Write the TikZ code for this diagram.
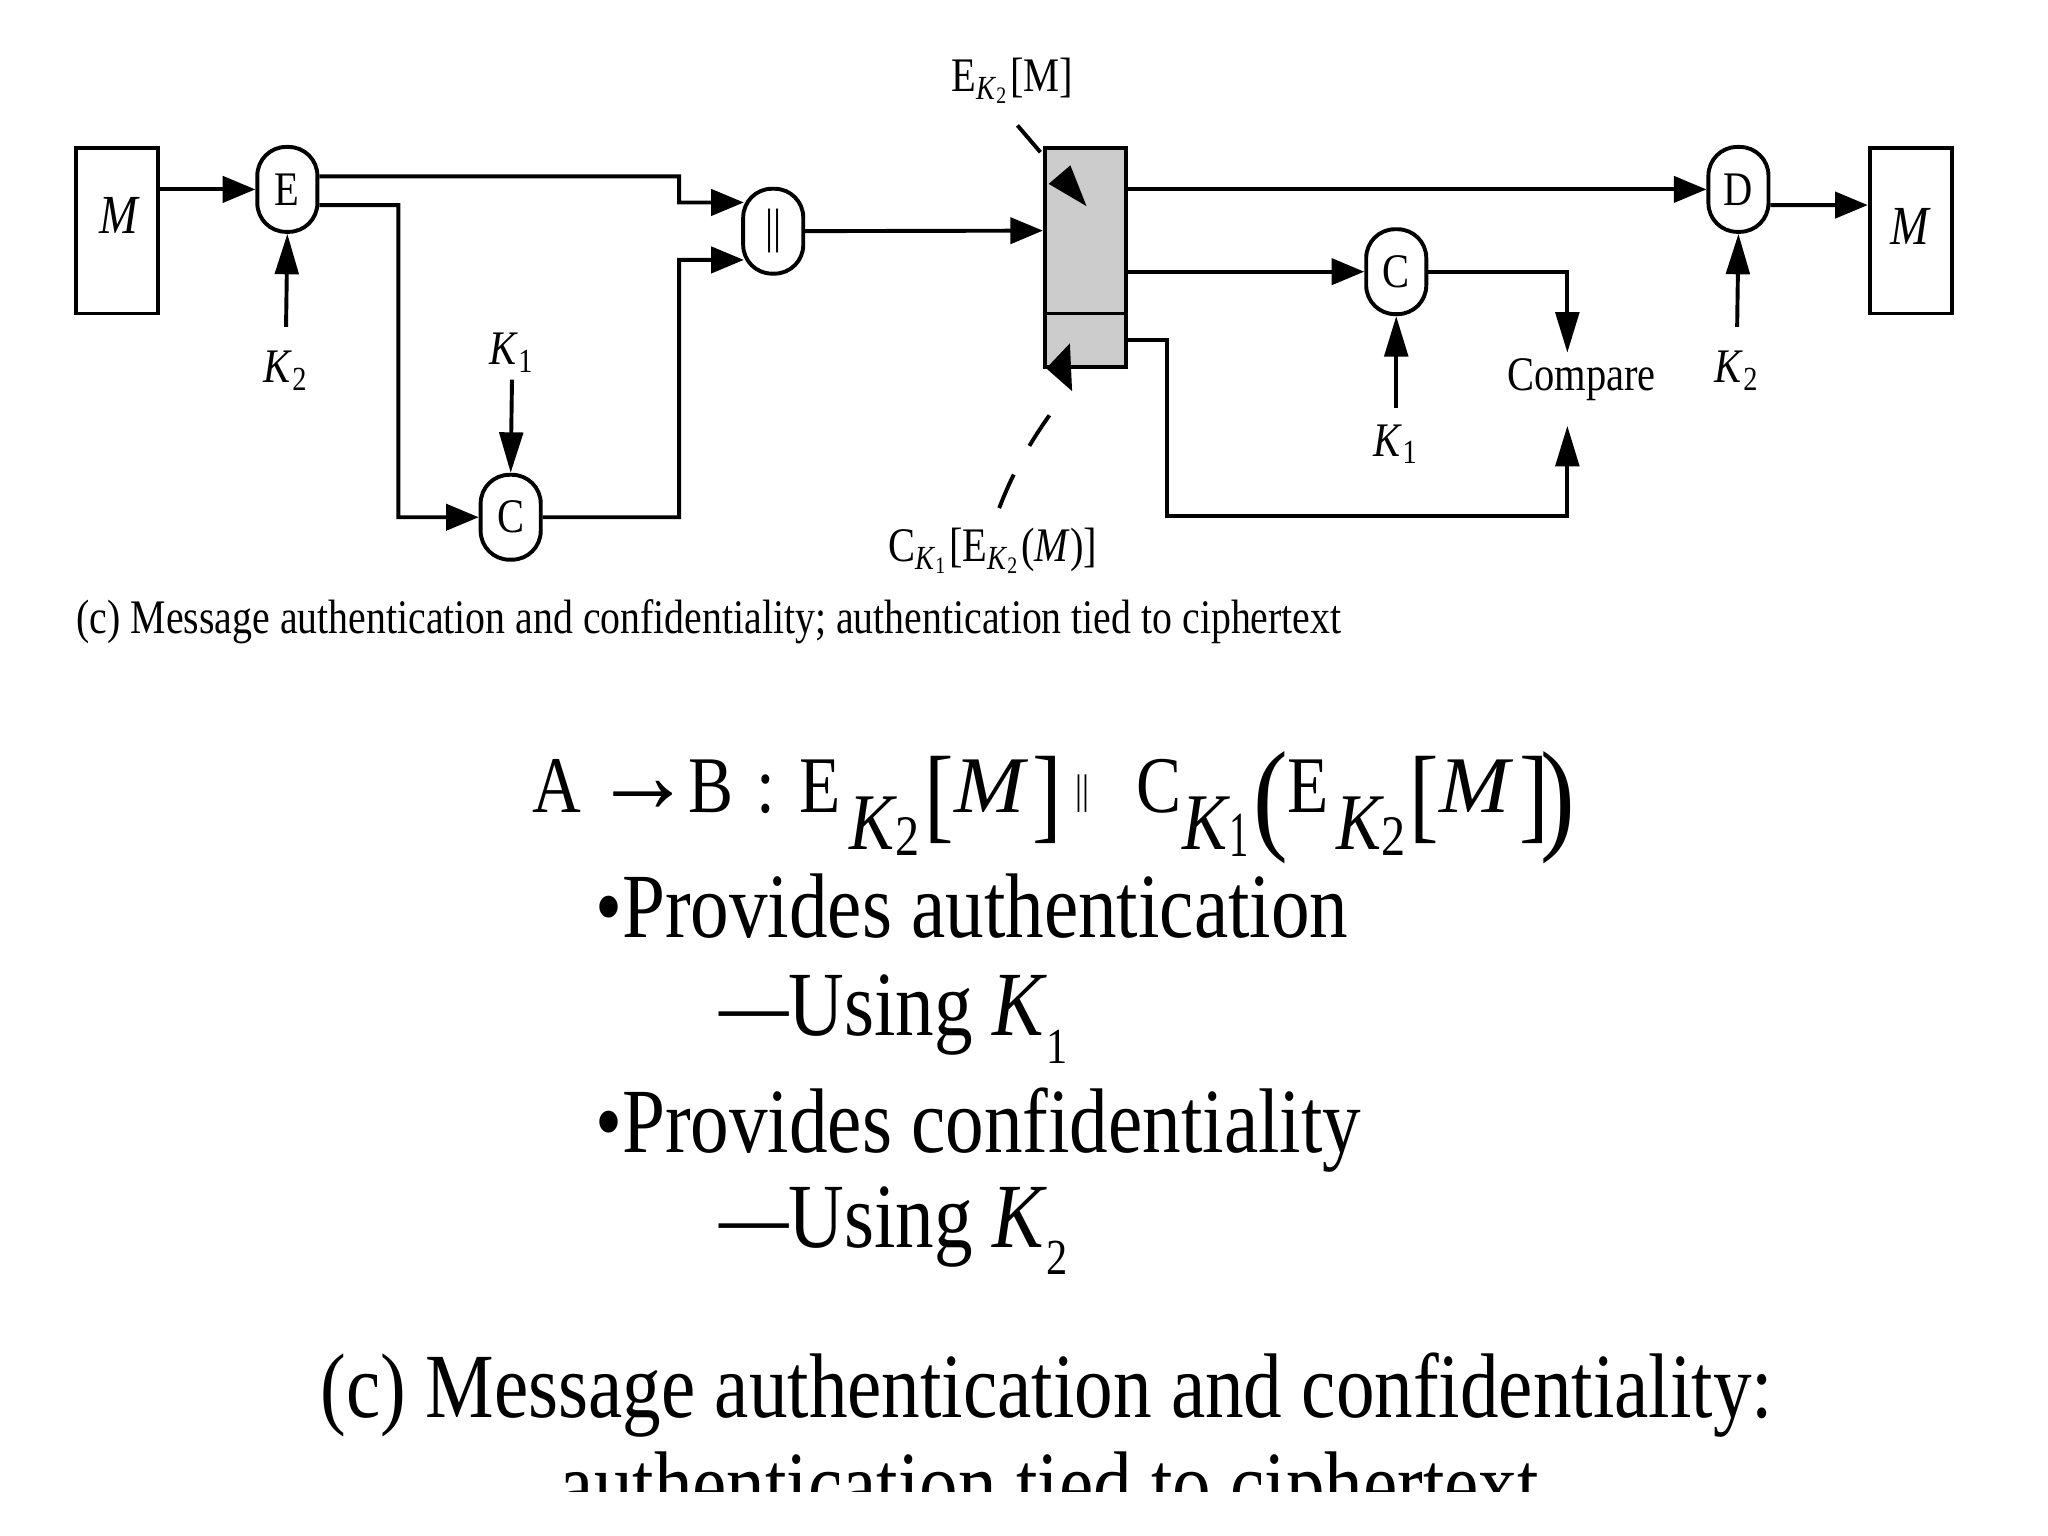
\documentclass[tikz,border=0pt]{standalone}
\usepackage{fontspec}
\setmainfont{Liberation Serif}
\usepackage{graphicx}
\usetikzlibrary{arrows.meta}
\newcommand\sx[2]{\scalebox{#1}[1]{#2}}
\newcommand\fs[1]{\fontsize{#1}{#1}\selectfont}
\newcommand\KK[1]{\textit{K}\textsubscript{#1}}
\newcommand\pc[2]{\rlap{\hspace{#1mm}#2}}
\begin{document}
\begin{tikzpicture}[x=0.1mm,y=-0.1mm,
  ln/.style={line width=0.3mm},
  harr/.style={ln,-{Triangle[length=2.5mm,width=2mm]}},
  varr/.style={ln,-{Triangle[length=3.1mm,width=1.8mm]}},
  dshA/.style={ln,dash pattern=on 2.7mm off 4mm,-{Triangle[length=3.2mm,width=2.1mm]}},
  dshB/.style={ln,dash pattern=on 2.8mm off 2.5mm on 2.8mm off 8mm,-{Triangle[length=1.9mm,width=3.6mm]}},
  op/.style={draw,ln,rounded corners=2.2mm,minimum width=4.6mm,minimum height=6.5mm,inner sep=0pt,font=\fs{10.5}},
  msg/.style={draw,ln,minimum width=6.3mm,minimum height=12.7mm,inner sep=0pt},
  shade/.style={draw,ln,fill=black!20,minimum width=6.2mm,inner sep=0pt},
  lbl/.style={inner sep=0pt,font=\fs{10.5}},
  big/.style={inner sep=0pt,anchor=base west,font=\fs{20}},
]
\fill[white] (0,0) rectangle (1568,1176);
\useasboundingbox (0,0) rectangle (1568,1176);

% ---- sender side
\node[msg] (mL) at (89.5,176.5) {};
\node[lbl,font=\fs{12}\itshape] (mLt) at (91,165) {\sx{0.84}{M}};
\node[op] (E) at (220,145) {\sx{0.84}{E}};
\node[lbl,inner ysep=1.8mm] (k2a) at (219,284) {\sx{0.84}{\KK{2}}};
\node[op] (C1) at (391,396) {\sx{0.84}{C}};
\node[lbl,inner ysep=0.5mm] (k1a) at (392,270) {\sx{0.84}{\KK{1}}};
\node[op] (cat) at (592,177) {\sx{0.84}{||}};

% ---- transmitted block
\node[shade,minimum height=12.7mm] (bt) at (831,176.5) {};
\node[shade,minimum height=4.1mm] (bb) at (831,260.5) {};
\node[lbl] (ekm) at (775,62) {\sx{0.84}{E\textsubscript{\KK{2}}[M]}};
\node[lbl] (ckm) at (760,422) {\sx{0.84}{C\textsubscript{\KK{1}}[E\textsubscript{\KK{2}}(\textit{M})]}};
\coordinate (ekmS) at (779,96);
\coordinate (ekmT) at (832,158);
\coordinate (ckmS) at (765,389);
\coordinate (ckmT) at (801,282);

% ---- receiver side
\node[op] (C2) at (1069,208) {\sx{0.84}{C}};
\node[lbl,inner ysep=1.2mm] (k1b) at (1069,340) {\sx{0.84}{\KK{1}}};
\node[lbl] (cmp) at (1211,291) {\sx{0.84}{Compare}};
\coordinate (cmpT) at (1200,270);
\coordinate (cmpB) at (1200,326);
\node[op] (D) at (1331,145) {\sx{0.84}{D}};
\node[lbl,inner ysep=1.8mm] (k2b) at (1330,284) {\sx{0.84}{\KK{2}}};
\node[msg] (mR) at (1463,176.5) {};
\node[lbl,font=\fs{12}\itshape] (mRt) at (1462,173) {\sx{0.84}{M}};

% ---- connectors
\draw[harr] (mL.east |- E) -- (E);
\draw[varr] (k2a.north) -- (E.south);
\draw[harr] ([yshift=1mm]E.east) -- (520,135) -- (520,155) -- ([yshift=2.2mm,xshift=0.2mm]cat.west);
\draw[harr] ([yshift=-1.2mm]E.east) -- (305,157) |- (C1.west);
\draw[varr] (k1a.south) -- (C1.north);
\draw[harr] (C1.east) -| (520,199) -- ([yshift=-2.2mm,xshift=0.2mm]cat.west);
\draw[harr] (cat) -- (bt);
\draw[dshA] (ekmS) -- (ekmT);
\draw[dshB] (ckmS) .. controls (795,310) and (845,280) .. (ckmT);
\draw[harr] (bt.east |- D) -- (D);
\draw[harr] (bt.east |- C2) -- (C2);
\draw[varr] (k1b.north) -- (C2.south);
\draw[varr] (C2.east) -| (cmpT);
\draw[varr] (bb.east) -- ++(30,0) -- ++(0,134.5) -| (cmpB);
\draw[varr] (k2b.north) -- (D.south);
\draw[harr] ([yshift=-1.2mm]D.east) -- ([yshift=1.95mm]mR.west);

% ---- captions and text
\node[lbl,anchor=base west] (cap1) at (58,485) {\sx{0.826}{(c) Message authentication and confidentiality; authentication tied to ciphertext}};

\node[big,font=\fs{17.5}] (form) at (405,622) {\pc{0}{\sx{0.84}{A}}\pc{4.7}{\sx{0.9}{\fs{24}→}}\pc{12}{\sx{0.84}{B}}\pc{17.2}{\sx{0.84}{:}}\pc{20.5}{\sx{0.84}{E}}\pc{24.3}{\raisebox{-8pt}{\sx{0.84}{\textit{K}}}}\pc{27.8}{\raisebox{-9.4pt}{\sx{0.84}{\fs{12.5}2}}}\pc{30}{\raisebox{-3.7pt}{\sx{0.84}{\fs{23}[}}}\pc{32.3}{\sx{1.05}{\textit{M}}}\pc{38.3}{\raisebox{-3.7pt}{\sx{0.84}{\fs{23}]}}}\pc{41.6}{\raisebox{2pt}{\sx{0.84}{\fs{9}||}}}\pc{46.3}{\sx{0.84}{C}}\pc{49.8}{\raisebox{-8pt}{\sx{0.84}{\textit{K}}}}\pc{53.4}{\raisebox{-9.7pt}{\sx{0.6}{\fs{14}1}}}\pc{55.2}{\raisebox{-5.4pt}{\sx{0.84}{\fs{27}(}}}\pc{57.8}{\sx{0.84}{E}}\pc{61.6}{\raisebox{-8pt}{\sx{0.84}{\textit{K}}}}\pc{65}{\raisebox{-9.4pt}{\sx{0.84}{\fs{12.5}2}}}\pc{67.2}{\raisebox{-3.7pt}{\sx{0.84}{\fs{23}[}}}\pc{69.5}{\sx{1.05}{\textit{M}}}\pc{75.6}{\raisebox{-3.7pt}{\sx{0.84}{\fs{23}]}}}\pc{77.2}{\raisebox{-5.4pt}{\sx{0.84}{\fs{27})}}}};
\node[big] (b1) at (455,718) {\sx{0.84}{•Provides authentication}};
\node[big] (u1) at (550,793) {\sx{0.84}{\sx{0.9}{—}Using \textit{K}\raisebox{-6pt}{\fs{11}1}}};
\node[big] (b2) at (455,882) {\sx{0.84}{•Provides confidentiality}};
\node[big] (u2) at (550,955) {\sx{0.84}{\sx{0.9}{—}Using \textit{K}\raisebox{-6pt}{\fs{11}2}}};
\node[big] (c1) at (245,1085) {\sx{0.84}{(c) Message authentication and confidentiality:}};
\begin{scope}
\clip (0,0) rectangle (1568,1142);
\node[big] (c2) at (428,1160) {\sx{0.84}{authentication tied to ciphertext}};
\end{scope}
\end{tikzpicture}
\end{document}
